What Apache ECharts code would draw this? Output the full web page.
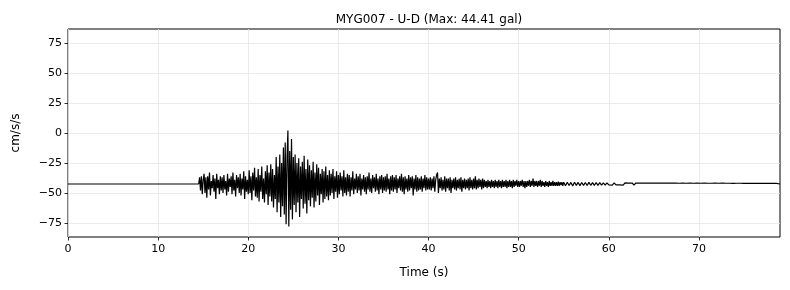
<!DOCTYPE html>
<html>
<head>
<meta charset="utf-8">
<script src="https://cdn.jsdelivr.net/npm/echarts@6/dist/echarts.min.js"></script>
<style>
html,body{margin:0;padding:0;background:#fff;}
#chart{width:790px;height:290px;}
</style>
</head>
<body>
<div id="chart"></div>
<script>
// ---- data (cm/s/s) ----
var titleText = 'MYG007 - U-D (Max: 44.41 gal)';
var xTicks = [0, 10, 20, 30, 40, 50, 60, 70];
var yTicks = [-75, -50, -25, 0, 25, 50, 75];
var xRange = [0, 79];
var yRange = [-86.7, 86.7];

// pre-event quiet record
var leadTimes = [0];
var leadValues = [-42.5];

// strong-motion part: starts 14.5 s, sampled every 0.1 s
var seg1Start = 14.5;
var seg1Step = 0.1;
var seg1Values = [
  -42.5,
  -37, -48, -36, -51, -39,
  -34, -50, -37, -54, -36, -47, -33, -52, -40, -46,
  -35, -49, -38, -55, -34, -46, -39, -51, -36, -48,
  -37, -50, -35, -47, -40, -52, -34, -49, -38, -45,
  -36, -51, -33, -48, -39, -53, -35, -46, -37, -50,
  -34, -52, -38, -47, -32, -55, -36, -49, -39, -51,
  -31, -50, -36, -56, -33, -48, -29, -53, -37, -54,
  -30, -57, -35, -49, -28, -55, -38, -58, -32, -51,
  -27, -60, -33, -53, -26, -57, -30, -62, -35, -55,
  -20, -66, -28, -58, -18, -70, -25, -61, -12, -68,
  -8, -76, -22, 2, -78, -15, -64, -5, -72, -20,
  -60, -18, -66, -25, -58, -21, -70, -28, -55, -24,
  -63, -19, -59, -30, -67, -22, -56, -27, -61, -31,
  -54, -24, -62, -33, -57, -26, -52, -29, -60, -34,
  -51, -30, -58, -32, -55, -28, -53, -35, -56, -31,
  -52, -34, -50, -30, -55, -36, -49, -32, -54, -35,
  -51, -33, -48, -36, -53, -31, -50, -37, -52, -34,
  -49, -35, -53, -37, -48, -32, -51, -38, -47, -34,
  -50, -36, -48, -34, -52, -38, -47, -35, -49, -37,
  -51, -36, -47, -33, -49, -38, -50, -35, -46, -37,
  -49, -34, -48, -38, -51, -36, -47, -35, -50, -37,
  -48, -36, -49, -34, -47, -38, -51, -36, -48, -35,
  -49, -37, -47, -35, -50, -38, -46, -36, -48, -34,
  -49, -37, -51, -36, -47, -38, -49, -35, -48, -37,
  -46, -36, -52, -38, -47, -35, -49, -37, -48, -38,
  -47, -36, -49, -38, -46, -35, -48, -37, -47, -38
];

// coda: starts 40.1 s, sampled every 0.1 s
var seg2Start = 40.1;
var seg2Step = 0.1;
var seg2Values = [
  -47, -37, -48, -38, -46, -36, -49, -39, -35, -33,
  -50, -38, -46, -37, -48, -39, -47, -36, -49, -38,
  -46, -38, -48, -37, -50, -39, -46, -38, -47, -37,
  -48, -39, -46, -38, -47, -37, -49, -39, -46, -38,
  -47, -39, -46, -38, -48, -37, -46, -39, -47, -38,
  -46, -36, -47, -39, -46, -38, -45, -39, -47, -38,
  -46, -39, -45, -40, -46, -39, -45, -40, -46, -39,
  -45, -40, -46, -39, -45, -40, -46, -39, -45, -40,
  -46, -39, -45, -40, -45, -39, -46, -40, -45, -39,
  -45, -40, -46, -39, -45, -40, -44, -39, -45, -40,
  -45, -40, -44, -39, -45, -40, -46, -40, -45, -40,
  -44, -39, -45, -40, -44, -38, -45, -40, -44, -40,
  -45, -40, -44, -39, -45, -40, -44, -41, -45, -40,
  -44, -41, -45, -40, -44, -41, -44, -40, -44, -41,
  -44, -41, -44, -40.5, -44, -41, -43.5, -41, -44, -41
];

// late coda: starts 55.2 s, sampled every 0.2 s
var seg3Start = 55.2;
var seg3Step = 0.2;
var seg3Values = [
  -44.0, -41.0, -43.8, -41.2, -44.1, -41.1, -43.7, -41.2, -43.9, -41.3,
  -43.7, -41.3, -43.8, -41.2, -43.6, -41.4, -43.7, -41.3, -43.6, -41.4,
  -43.4, -41.6, -43.5, -41.5, -43.3, -41.7, -43.4, -41.6, -43.3, -41.7,
  -43.3, -41.7, -43.4, -41.6, -43.2, -41.8, -43.3, -41.7, -43.4, -41.7,
  -43.2, -41.8, -43.3, -41.7, -43.2, -41.8, -43.3, -41.7, -43.2, -41.8,
  -43.3, -41.8, -43.2, -41.7, -43.3, -41.8, -43.1, -41.8, -43.2, -41.7,
  -43.2, -41.8, -43.1, -41.9, -43.2, -41.8, -43.2, -41.9, -43.1, -41.8,
  -43.2, -41.9, -43.1, -41.8, -43.2, -41.9, -43.1, -41.8, -43.2, -41.9,
  -43.1, -41.9, -43.2, -41.8, -43.1, -41.9, -43.1, -41.8, -43.2, -41.9,
  -43.1, -41.9, -43.0, -42.0, -43.1, -41.9, -43.0, -41.9, -43.1, -42.0,
  -43.0, -42.0, -43.1, -41.9, -43.0, -42.0, -43.1, -41.9, -43.0, -42.0,
  -43.0, -42.0, -43.1, -41.9, -43.0, -42.0, -43.0, -42.0, -43.0, -42.5
];

// ---- build series points ----
var points = [];
leadTimes.forEach(function (t, i) { points.push([t, leadValues[i]]); });
[[seg1Start, seg1Step, seg1Values], [seg2Start, seg2Step, seg2Values], [seg3Start, seg3Step, seg3Values]]
  .forEach(function (s) {
    s[2].forEach(function (v, i) { points.push([+(s[0] + i * s[1]).toFixed(2), v]); });
  });

function fmt(v) { return String(v).replace('-', '\u2212'); }

var FONT = 'DejaVu Sans';
var chart = echarts.init(document.getElementById('chart'), null, { renderer: 'canvas' });
chart.setOption({
  animation: false,
  backgroundColor: '#ffffff',
  title: {
    text: titleText,
    left: 424, textAlign: 'center', top: 9,
    textStyle: { fontFamily: FONT, fontSize: 12, fontWeight: 'normal', color: '#000' }
  },
  grid: {
    left: 68, right: 10, top: 29, bottom: 53,
    show: true, borderColor: '#000', borderWidth: 1, backgroundColor: 'transparent'
  },
  xAxis: {
    type: 'value', min: xRange[0], max: xRange[1],
    name: 'Time (s)', nameLocation: 'middle', nameGap: 30,
    nameTextStyle: { fontFamily: FONT, fontSize: 12, color: '#000' },
    axisLine: { show: false, onZero: false },
    axisTick: { show: true, inside: false, length: 3.5, lineStyle: { color: '#000', width: 0.8 }, customValues: xTicks },
    axisLabel: { fontFamily: FONT, fontSize: 11, color: '#000', margin: 7, customValues: xTicks, formatter: fmt },
    splitLine: { show: true, lineStyle: { color: '#e6e6e6', width: 0.8 } }
  },
  yAxis: {
    type: 'value', min: yRange[0], max: yRange[1],
    name: 'cm/s/s', nameLocation: 'middle', nameGap: 46, nameRotate: 90,
    nameTextStyle: { fontFamily: FONT, fontSize: 12, color: '#000' },
    axisLine: { show: false, onZero: false },
    axisTick: { show: true, inside: false, length: 3.5, lineStyle: { color: '#000', width: 0.8 }, customValues: yTicks },
    axisLabel: { fontFamily: FONT, fontSize: 11, color: '#000', margin: 6, customValues: yTicks, formatter: fmt },
    splitLine: { show: true, lineStyle: { color: '#e6e6e6', width: 0.8 } }
  },
  series: [{
    type: 'line',
    data: points,
    showSymbol: false,
    symbol: 'none',
    clip: true,
    lineStyle: { color: '#000', width: 1.2 },
    emphasis: { disabled: true }
  }]
});
</script>
</body>
</html>
